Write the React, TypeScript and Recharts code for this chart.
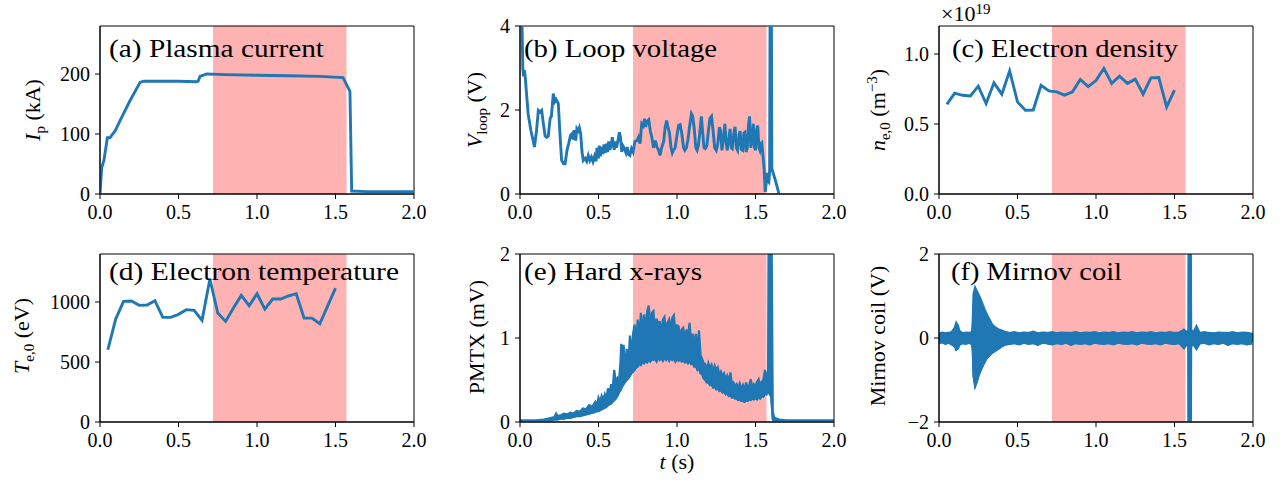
import React from 'react';
import { ComposedChart, Line, Area, XAxis, YAxis, ReferenceArea } from 'recharts';

const FONT = '"Liberation Serif", "Times New Roman", serif';
const BLUE = '#1f77b4';
const SHADE = '#ffb2b2';

const timeTicks = [0, 0.5, 1, 1.5, 2];
const shadeStart = 0.72;
const shadeEnd = 1.57;

// (a) Plasma current, kA
const ipTime = [0, 0.011, 0.025, 0.047, 0.064, 0.096, 0.127, 0.19, 0.255, 0.28, 0.4, 0.5, 0.616, 0.625, 0.637, 0.68, 0.8, 1.0, 1.2, 1.4, 1.548, 1.592, 1.603, 1.7, 2.0];
const ipKA = [0, 44, 56, 94, 94, 105, 122, 155, 186, 188, 188, 188, 187, 188, 196, 200, 199, 198, 197, 196, 194, 171, 5, 4, 4];

// (b) Loop voltage, V
const vlTime = [0, 0.008, 0.018, 0.022, 0.028, 0.033, 0.052, 0.07, 0.085, 0.092, 0.105, 0.117, 0.128, 0.138, 0.148, 0.16, 0.17, 0.18, 0.192, 0.2, 0.212, 0.222, 0.23, 0.244, 0.255, 0.265, 0.278, 0.287, 0.3, 0.31, 0.322, 0.33, 0.338, 0.345, 0.355, 0.362, 0.37, 0.378, 0.386, 0.395, 0.403, 0.415, 0.425, 0.435, 0.445, 0.455, 0.465, 0.475, 0.485, 0.49, 0.5, 0.505, 0.512, 0.52, 0.528, 0.535, 0.543, 0.55, 0.558, 0.565, 0.572, 0.58, 0.588, 0.594, 0.6, 0.608, 0.615, 0.625, 0.633, 0.64, 0.648, 0.655, 0.665, 0.675, 0.683, 0.69, 0.7, 0.71, 0.72, 0.732, 0.745, 0.755, 0.765, 0.775, 0.785, 0.793, 0.8, 0.81, 0.82, 0.83, 0.84, 0.85, 0.862, 0.872, 0.882, 0.892, 0.902, 0.915, 0.925, 0.934, 0.942, 0.952, 0.962, 0.97, 0.978, 0.988, 0.998, 1.01, 1.02, 1.03, 1.042, 1.05, 1.06, 1.07, 1.08, 1.092, 1.1, 1.11, 1.12, 1.128, 1.136, 1.145, 1.155, 1.163, 1.172, 1.18, 1.19, 1.2, 1.21, 1.22, 1.23, 1.24, 1.25, 1.26, 1.27, 1.278, 1.286, 1.296, 1.305, 1.314, 1.32, 1.33, 1.338, 1.346, 1.352, 1.362, 1.37, 1.378, 1.386, 1.395, 1.402, 1.41, 1.418, 1.426, 1.432, 1.44, 1.448, 1.455, 1.462, 1.47, 1.478, 1.486, 1.494, 1.5, 1.508, 1.514, 1.522, 1.528, 1.535, 1.54, 1.548, 1.555, 1.562, 1.568, 1.574, 1.58, 1.585, 1.59, 1.594, 1.6, 1.604, 1.625, 1.65, 1.7, 2.0];
const vlVolt = [8, 5, 3.0, 2.8, 2.95, 2.8, 1.9, 1.5, 1.25, 1.12, 1.5, 1.99, 1.95, 1.99, 1.7, 1.38, 1.35, 1.38, 1.8, 1.85, 2.39, 2.2, 2.25, 2.15, 1.4, 0.8, 0.72, 0.72, 1.05, 1.2, 1.4, 1.43, 1.3, 1.52, 1.27, 1.55, 1.5, 1.58, 1.45, 1.0, 0.8, 0.85, 0.78, 0.92, 0.8, 0.88, 0.77, 0.9, 0.78, 1.1, 0.85, 1.15, 0.9, 1.12, 0.95, 1.18, 0.98, 1.2, 1.0, 1.25, 1.05, 1.15, 1.35, 1.2, 1.05, 1.25, 1.1, 1.3, 1.47, 1.35, 1.0, 1.15, 1.08, 0.98, 1.12, 0.95, 0.92, 1.08, 1.0, 1.25, 1.27, 1.35, 1.2, 1.67, 1.62, 1.79, 1.6, 1.73, 1.77, 1.5, 1.35, 1.1, 1.27, 1.12, 1.05, 0.92, 1.1, 1.25, 1.6, 1.75, 1.6, 1.45, 1.1, 0.98, 1.05, 1.1, 1.35, 1.63, 1.65, 1.45, 1.1, 1.04, 1.1, 1.3, 1.6, 1.91, 1.85, 1.55, 1.1, 1.04, 1.15, 1.45, 1.85, 1.5, 1.1, 1.08, 1.15, 1.5, 1.8, 1.85, 1.5, 1.1, 1.04, 1.2, 1.59, 1.5, 1.04, 1.3, 1.67, 1.2, 1.04, 1.3, 1.55, 1.1, 1.08, 1.45, 1.6, 1.1, 1.04, 1.4, 1.5, 1.06, 1.04, 1.45, 1.47, 1.0, 1.1, 1.62, 1.85, 1.1, 1.25, 1.67, 1.1, 1.04, 1.55, 1.63, 1.1, 1.04, 1.2, 1.22, 0.9, 0.6, 0.05, 0.25, 0.5, 0.3, 0.28, 0.55, 6, 6, 0.6, 0.35, 0.0, -0.6, -0.5];

// (c) Electron density, 1e19 m^-3
const neTime = [0.05, 0.1, 0.15, 0.2, 0.25, 0.3, 0.35, 0.4, 0.45, 0.5, 0.55, 0.6, 0.65, 0.7, 0.75, 0.8, 0.85, 0.9, 0.95, 1.0, 1.05, 1.1, 1.15, 1.2, 1.25, 1.3, 1.35, 1.4, 1.45, 1.5];
const neVal = [0.64, 0.72, 0.705, 0.70, 0.77, 0.646, 0.794, 0.713, 0.88, 0.658, 0.598, 0.60, 0.777, 0.737, 0.73, 0.706, 0.73, 0.818, 0.767, 0.81, 0.897, 0.79, 0.842, 0.79, 0.82, 0.713, 0.83, 0.832, 0.622, 0.742];

// (d) Electron temperature, eV
const teTime = [0.05, 0.1, 0.15, 0.2, 0.25, 0.3, 0.35, 0.4, 0.45, 0.5, 0.55, 0.6, 0.65, 0.7, 0.75, 0.8, 0.85, 0.9, 0.95, 1.0, 1.05, 1.1, 1.15, 1.2, 1.25, 1.3, 1.35, 1.4, 1.5];
const teVal = [602, 858, 1005, 1008, 972, 975, 1011, 872, 872, 897, 936, 930, 847, 1192, 908, 838, 950, 1055, 969, 1069, 941, 1025, 1025, 1050, 1069, 866, 866, 819, 1116];

// (e) Hard x-rays (PMTX), mV — lower / upper envelope of the signal
const hxTime = [0, 0.05, 0.1, 0.15, 0.18, 0.2, 0.22, 0.23, 0.24, 0.26, 0.28, 0.3, 0.32, 0.34, 0.36, 0.38, 0.4, 0.42, 0.44, 0.46, 0.48, 0.49, 0.5, 0.51, 0.52, 0.53, 0.54, 0.55, 0.56, 0.57, 0.58, 0.59, 0.6, 0.61, 0.62, 0.63, 0.64, 0.645, 0.65, 0.66, 0.67, 0.68, 0.69, 0.7, 0.71, 0.72, 0.73, 0.74, 0.75, 0.76, 0.77, 0.78, 0.79, 0.8, 0.81, 0.82, 0.83, 0.84, 0.85, 0.86, 0.87, 0.88, 0.89, 0.9, 0.91, 0.92, 0.93, 0.94, 0.95, 0.96, 0.97, 0.98, 0.99, 1.0, 1.01, 1.02, 1.03, 1.04, 1.05, 1.06, 1.07, 1.08, 1.09, 1.1, 1.11, 1.12, 1.13, 1.14, 1.15, 1.16, 1.17, 1.18, 1.19, 1.2, 1.21, 1.22, 1.23, 1.24, 1.25, 1.26, 1.27, 1.28, 1.29, 1.3, 1.31, 1.32, 1.33, 1.34, 1.35, 1.36, 1.37, 1.38, 1.39, 1.4, 1.41, 1.42, 1.43, 1.44, 1.45, 1.46, 1.47, 1.48, 1.49, 1.5, 1.51, 1.52, 1.53, 1.54, 1.55, 1.56, 1.57, 1.58, 1.585, 1.6, 1.61, 1.62, 1.65, 1.7, 2.0];
const hxLow = [0, 0, 0, 0.01, 0.01, 0.02, 0.03, 0.03, 0.03, 0.04, 0.04, 0.05, 0.05, 0.06, 0.07, 0.07, 0.08, 0.09, 0.1, 0.11, 0.12, 0.13, 0.13, 0.14, 0.15, 0.16, 0.17, 0.18, 0.2, 0.21, 0.22, 0.24, 0.26, 0.28, 0.31, 0.35, 0.38, 0.4, 0.42, 0.45, 0.48, 0.5, 0.52, 0.55, 0.58, 0.6, 0.62, 0.65, 0.66, 0.7, 0.68, 0.72, 0.7, 0.73, 0.71, 0.75, 0.72, 0.75, 0.74, 0.75, 0.72, 0.77, 0.74, 0.77, 0.73, 0.77, 0.74, 0.77, 0.73, 0.77, 0.74, 0.76, 0.72, 0.76, 0.73, 0.75, 0.72, 0.74, 0.71, 0.73, 0.7, 0.72, 0.69, 0.7, 0.66, 0.67, 0.62, 0.63, 0.58, 0.57, 0.52, 0.5, 0.47, 0.47, 0.44, 0.45, 0.41, 0.42, 0.39, 0.4, 0.37, 0.38, 0.35, 0.36, 0.33, 0.34, 0.31, 0.32, 0.29, 0.3, 0.28, 0.28, 0.26, 0.27, 0.25, 0.25, 0.24, 0.26, 0.25, 0.27, 0.26, 0.28, 0.27, 0.29, 0.27, 0.3, 0.28, 0.31, 0.3, 0.34, 0.33, 0.4, 0.35, 0.3, 0.03, 0.01, 0, 0, 0];
const hxHigh = [0.02, 0.02, 0.02, 0.03, 0.04, 0.05, 0.06, 0.1, 0.07, 0.08, 0.1, 0.09, 0.11, 0.1, 0.13, 0.12, 0.16, 0.15, 0.2, 0.18, 0.24, 0.2, 0.29, 0.24, 0.31, 0.26, 0.33, 0.28, 0.4, 0.33, 0.45, 0.38, 0.62, 0.48, 0.52, 0.47, 0.72, 0.93, 0.7, 0.92, 0.62, 0.87, 0.65, 1.03, 0.8, 1.05, 1.16, 0.95, 1.22, 1.0, 1.3, 1.05, 1.28, 1.1, 1.32, 1.385, 1.12, 1.3, 1.32, 1.1, 1.23, 1.15, 1.2, 1.05, 1.22, 1.25, 1.08, 1.18, 1.22, 1.1, 1.24, 1.27, 1.08, 1.15, 1.14, 1.0, 1.1, 1.12, 0.98, 1.1, 1.02, 1.18, 0.95, 1.05, 0.92, 1.05, 0.85, 1.09, 0.8, 0.75, 0.7, 0.69, 0.62, 0.7, 0.64, 0.68, 0.6, 0.67, 0.62, 0.65, 0.56, 0.6, 0.55, 0.58, 0.5, 0.55, 0.48, 0.59, 0.45, 0.47, 0.42, 0.45, 0.4, 0.46, 0.4, 0.44, 0.38, 0.47, 0.4, 0.44, 0.51, 0.4, 0.45, 0.42, 0.48, 0.51, 0.42, 0.48, 0.5, 0.62, 0.55, 0.6, 3.0, 3.0, 0.12, 0.05, 0.03, 0.02, 0.02];

// (f) Mirnov coil, V — lower / upper envelope of the oscillation
const mcTime = [0, 0.02, 0.04, 0.06, 0.08, 0.1, 0.11, 0.12, 0.13, 0.15, 0.17, 0.19, 0.21, 0.215, 0.22, 0.23, 0.24, 0.25, 0.26, 0.27, 0.28, 0.29, 0.3, 0.31, 0.32, 0.33, 0.34, 0.36, 0.38, 0.4, 0.42, 0.45, 0.48, 0.51, 0.54, 0.57, 0.6, 0.63, 0.66, 0.69, 0.72, 0.75, 0.78, 0.81, 0.84, 0.87, 0.9, 0.93, 0.96, 0.99, 1.02, 1.05, 1.08, 1.11, 1.14, 1.17, 1.2, 1.23, 1.26, 1.29, 1.32, 1.35, 1.38, 1.41, 1.44, 1.47, 1.5, 1.53, 1.56, 1.575, 1.588, 1.59, 1.603, 1.606, 1.62, 1.64, 1.66, 1.69, 1.72, 1.75, 1.78, 1.81, 1.84, 1.87, 1.9, 1.93, 1.96, 2.0];
const mcLow = [-0.12, -0.1, -0.14, -0.11, -0.15, -0.2, -0.28, -0.25, -0.16, -0.12, -0.14, -0.11, -0.15, -0.3, -0.9, -1.15, -1.05, -0.92, -0.82, -0.73, -0.65, -0.58, -0.5, -0.46, -0.42, -0.38, -0.35, -0.3, -0.25, -0.2, -0.16, -0.14, -0.12, -0.15, -0.11, -0.14, -0.12, -0.16, -0.11, -0.13, -0.15, -0.12, -0.14, -0.11, -0.16, -0.12, -0.14, -0.12, -0.15, -0.11, -0.13, -0.14, -0.12, -0.15, -0.11, -0.13, -0.14, -0.12, -0.15, -0.11, -0.13, -0.14, -0.12, -0.15, -0.11, -0.13, -0.14, -0.12, -0.24, -0.15, -0.2, -3, -3, -0.2, -0.14, -0.26, -0.13, -0.11, -0.15, -0.12, -0.14, -0.11, -0.16, -0.12, -0.14, -0.12, -0.15, -0.12];
const mcHigh = [0.1, 0.13, 0.11, 0.12, 0.14, 0.24, 0.36, 0.3, 0.17, 0.11, 0.13, 0.12, 0.14, 0.4, 1.05, 1.2, 1.12, 1.05, 0.97, 0.88, 0.78, 0.68, 0.6, 0.52, 0.45, 0.38, 0.31, 0.25, 0.2, 0.18, 0.15, 0.12, 0.14, 0.11, 0.13, 0.12, 0.15, 0.11, 0.13, 0.12, 0.14, 0.11, 0.13, 0.12, 0.12, 0.14, 0.11, 0.13, 0.12, 0.14, 0.11, 0.13, 0.12, 0.14, 0.11, 0.13, 0.12, 0.14, 0.11, 0.13, 0.12, 0.14, 0.11, 0.13, 0.12, 0.14, 0.12, 0.13, 0.2, 0.13, 0.2, 3, 3, 0.2, 0.13, 0.28, 0.12, 0.14, 0.12, 0.11, 0.13, 0.12, 0.12, 0.14, 0.11, 0.13, 0.12, 0.1];

const ipData = ipTime.map((t, i) => ({ t, v: ipKA[i] }));
const vlData = vlTime.map((t, i) => ({ t, v: vlVolt[i] }));
const neData = neTime.map((t, i) => ({ t, v: neVal[i] }));
const teData = teTime.map((t, i) => ({ t, v: teVal[i] }));
const hxData = hxTime.map((t, i) => ({ t, r: [hxLow[i], hxHigh[i]], lo: hxLow[i] }));
const mcData = mcTime.map((t, i) => ({ t, r: [mcLow[i], mcHigh[i]], lo: mcLow[i] }));

const PW = 314, PH = 168, ML = 90, MT = 30, MR = 20, MB = 50;

const tickStyle = { fill: '#000', fontSize: 20, fontFamily: FONT };
const minusFmt = (v: number) => (v < 0 ? '\u2212' + Math.abs(v) : String(v));

function Panel(props: any) {
  const { x, y, data, yDomain, yTicks, yFmt, children } = props;
  return (
    <div style={{ position: 'absolute', left: x - ML, top: y - MT }}>
      <ComposedChart
        width={PW + ML + MR}
        height={PH + MT + MB}
        data={data}
        margin={{ top: MT, right: MR, left: 0, bottom: 0 }}
      >
        <ReferenceArea x1={shadeStart} x2={shadeEnd} y1={yDomain[0]} y2={yDomain[1]} fill={SHADE} fillOpacity={1} stroke="none" />
        {children}
        <ReferenceArea x1={0} x2={2} y1={yDomain[0]} y2={yDomain[1]} fill="none" stroke="#000" strokeWidth={1} />
        <XAxis
          type="number"
          dataKey="t"
          domain={[0, 2]}
          ticks={timeTicks}
          tickFormatter={(v: number) => v.toFixed(1)}
          allowDataOverflow
          height={MB}
          stroke="#000"
          tick={tickStyle}
          tickSize={5}
          tickMargin={6}
          interval={0}
        />
        <YAxis
          type="number"
          domain={yDomain}
          ticks={yTicks}
          tickFormatter={yFmt}
          allowDataOverflow
          width={ML}
          stroke="#000"
          tick={tickStyle}
          tickSize={5}
          tickMargin={5}
          interval={0}
        />
      </ComposedChart>
    </div>
  );
}

const lineProps = { type: 'linear' as const, dataKey: 'v', stroke: BLUE, strokeWidth: 2.9, dot: false, isAnimationActive: false };
const lowLineProps = { type: 'linear' as const, dataKey: 'lo', stroke: BLUE, strokeWidth: 1.8, dot: false, activeDot: false, isAnimationActive: false };
const bandProps = { type: 'linear' as const, dataKey: 'r', stroke: BLUE, strokeWidth: 2.2, fill: BLUE, fillOpacity: 1, isAnimationActive: false, dot: false, activeDot: false };

const TITLE = 26;
const LAB = 22;
const SUB = 15;

function Overlay() {
  const title = (x: number, y: number, w: number, s: string) => (
    <text x={x} y={y} fontSize={TITLE} fontFamily={FONT} fill="#000" textLength={w} lengthAdjust="spacingAndGlyphs">{s}</text>
  );
  const rot = (x: number, y: number, content: any) => (
    <text transform={`translate(${x},${y}) rotate(-90)`} textAnchor="middle" fontSize={LAB} fontFamily={FONT} fill="#000">{content}</text>
  );
  return (
    <svg width={1283} height={484} style={{ position: 'absolute', left: 0, top: 0, pointerEvents: 'none' }}>
      {title(109, 57, 215, '(a) Plasma current')}
      {title(524, 57, 193, '(b) Loop voltage')}
      {title(952, 57, 226, '(c) Electron density')}
      {title(109, 280, 290, '(d) Electron temperature')}
      {title(524, 280, 178, '(e) Hard x-rays')}
      {title(951, 280, 171, '(f) Mirnov coil')}
      <text x={941} y={21} fontSize={22} fontFamily={FONT} fill="#000">
        ×10<tspan dy={-7} fontSize={15}>19</tspan>
      </text>
      {rot(40, 110, <>
        <tspan fontStyle="italic">I</tspan><tspan dy={5} fontSize={SUB}>p</tspan><tspan dy={-5}> (kA)</tspan>
      </>)}
      {rot(482, 110, <>
        <tspan fontStyle="italic">V</tspan><tspan dy={5} fontSize={SUB}>loop</tspan><tspan dy={-5}> (V)</tspan>
      </>)}
      {rot(885, 110, <>
        <tspan fontStyle="italic">n</tspan><tspan dy={5} fontSize={SUB}>e,0</tspan><tspan dy={-5}> (m</tspan><tspan dy={-8} fontSize={SUB}>−3</tspan><tspan dy={8}>)</tspan>
      </>)}
      {rot(29, 336, <>
        <tspan fontStyle="italic">T</tspan><tspan dy={5} fontSize={SUB}>e,0</tspan><tspan dy={-5}> (eV)</tspan>
      </>)}
      {rot(484, 337, 'PMTX (mV)')}
      {rot(885, 336, 'Mirnov coil (V)')}
      <text x={677} y={469} textAnchor="middle" fontSize={LAB} fontFamily={FONT} fill="#000">
        <tspan fontStyle="italic">t</tspan> (s)
      </text>
    </svg>
  );
}

export default function App() {
  return (
    <div style={{ position: 'absolute', left: 0, top: 0, width: 1283, height: 484, background: '#fff', overflow: 'hidden' }}>
      <Panel x={100} y={26} data={ipData} yDomain={[0, 280]} yTicks={[0, 100, 200]} yFmt={minusFmt}>
        <Line {...lineProps} />
      </Panel>
      <Panel x={520} y={26} data={vlData} yDomain={[0, 4]} yTicks={[0, 2, 4]} yFmt={minusFmt}>
        <Line {...lineProps} />
      </Panel>
      <Panel x={939} y={26} data={neData} yDomain={[0, 1.2]} yTicks={[0, 0.5, 1]} yFmt={(v: number) => v.toFixed(1)}>
        <Line {...lineProps} />
      </Panel>
      <Panel x={100} y={254} data={teData} yDomain={[0, 1400]} yTicks={[0, 500, 1000]} yFmt={minusFmt}>
        <Line {...lineProps} />
      </Panel>
      <Panel x={520} y={254} data={hxData} yDomain={[0, 2]} yTicks={[0, 1, 2]} yFmt={minusFmt}>
        <Area {...bandProps} />
        <Line {...lowLineProps} />
      </Panel>
      <Panel x={939} y={254} data={mcData} yDomain={[-2, 2]} yTicks={[-2, 0, 2]} yFmt={minusFmt}>
        <Area {...bandProps} />
        <Line {...lowLineProps} />
      </Panel>
      <Overlay />
    </div>
  );
}
